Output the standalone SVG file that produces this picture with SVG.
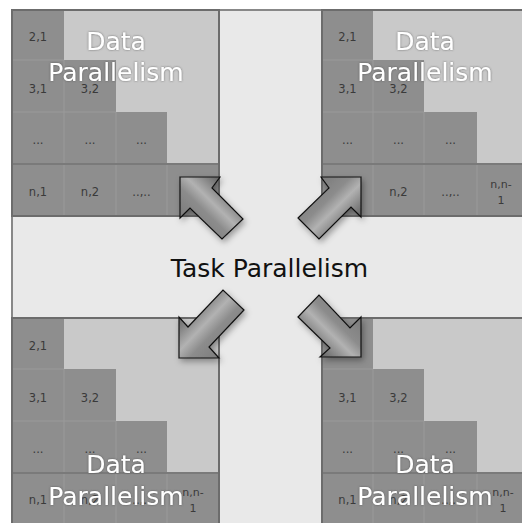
<svg xmlns="http://www.w3.org/2000/svg" width="522" height="523" viewBox="0 0 522 523">
<defs>
<style>
.light{fill:#c9c9c9}
.dark{fill:#8e8e8e}
.grid{stroke:#9a9a9a;stroke-width:1;fill:none}
.sep{stroke:#7a7a7a;stroke-width:2;fill:none}
.border{fill:none;stroke:#6c6c6c;stroke-width:2}
.lbl{font-family:"DejaVu Sans",Verdana,sans-serif;font-size:11.5px;fill:#3a3a3a;text-anchor:middle}
.lbs{font-family:"DejaVu Sans",Verdana,sans-serif;font-size:11px;fill:#3a3a3a;text-anchor:middle}
.big{font-family:"DejaVu Sans",Verdana,sans-serif;font-size:25px;fill:#ffffff;text-anchor:middle;filter:url(#glow)}
.task{font-family:"DejaVu Sans",Verdana,sans-serif;font-size:25px;fill:#111111;text-anchor:middle}
.arrow{stroke:#111;stroke-width:1.2;stroke-linejoin:miter;filter:url(#shadow)}
</style>
<linearGradient id="gA" x1="0" y1="1" x2="1" y2="0">
<stop offset="0" stop-color="#6e6e6e"/>
<stop offset="0.42" stop-color="#8c8c8c"/>
<stop offset="0.55" stop-color="#b2b2b2"/>
<stop offset="0.68" stop-color="#8a8a8a"/>
<stop offset="1" stop-color="#2a2a2a"/>
</linearGradient>
<linearGradient id="gB" href="#gA" x1="0" y1="0" x2="1" y2="1"/>
<linearGradient id="gC" href="#gA" x1="1" y1="1" x2="0" y2="0"/>
<linearGradient id="gD" href="#gA" x1="1" y1="0" x2="0" y2="1"/>
<filter id="shadow" x="-30%" y="-30%" width="170%" height="170%">
<feDropShadow dx="2" dy="3" stdDeviation="3" flood-color="#000" flood-opacity="0.35"/>
</filter>
<filter id="glow" x="-10%" y="-30%" width="120%" height="160%">
<feDropShadow dx="0" dy="0" stdDeviation="1.2" flood-color="#444" flood-opacity="0.7"/>
</filter>
</defs>
<rect x="0" y="0" width="522" height="523" fill="#ffffff"/>
<rect id="frame" x="12" y="10" width="530" height="530" fill="#e9e9e9" stroke="#888888" stroke-width="2"/>

<g id="block-top-left">
<rect class="light" x="12" y="10" width="207" height="206"/>
<path class="dark" d="M12,10 H64 V60 H116 V112 H167 V164 H219 V216 H12 Z"/>
<path class="grid" d="M12,60 H64 M12,112 H116 M64,60 V216 M116,112 V216 M167,164 V216"/>
<path class="sep" d="M12,164 H219"/>
<rect class="border" x="12" y="10" width="207" height="206"/>
<text class="lbl" x="38" y="41">2,1</text>
<text class="lbl" x="38" y="93">3,1</text>
<text class="lbl" x="90" y="93">3,2</text>
<text class="lbl" x="38" y="144">...</text>
<text class="lbl" x="90" y="144">...</text>
<text class="lbl" x="141.5" y="144">...</text>
<text class="lbl" x="38" y="196">n,1</text>
<text class="lbl" x="90" y="196">n,2</text>
<text class="lbl" x="141.5" y="196">..,..</text>
<text class="big" x="116" y="50">Data</text>
<text class="big" x="116" y="81">Parallelism</text>
</g>

<g id="block-top-right">
<rect class="light" x="322" y="10" width="210" height="206"/>
<path class="dark" d="M322,10 H373 V60 H424 V112 H477 V164 H532 V216 H322 Z"/>
<path class="grid" d="M322,60 H373 M322,112 H424 M373,60 V216 M424,112 V216 M477,164 V216"/>
<path class="sep" d="M322,164 H532"/>
<rect class="border" x="322" y="10" width="210" height="206"/>
<text class="lbl" x="347.5" y="41">2,1</text>
<text class="lbl" x="347.5" y="93">3,1</text>
<text class="lbl" x="398.5" y="93">3,2</text>
<text class="lbl" x="347.5" y="144">...</text>
<text class="lbl" x="398.5" y="144">...</text>
<text class="lbl" x="450.5" y="144">...</text>
<text class="lbl" x="398.5" y="196">n,2</text>
<text class="lbl" x="450.5" y="196">..,..</text>
<text class="lbs" x="501" y="188">n,n-</text>
<text class="lbs" x="501" y="204">1</text>
<text class="big" x="425" y="50">Data</text>
<text class="big" x="425" y="81">Parallelism</text>
</g>

<g id="block-bottom-left">
<rect class="light" x="12" y="318" width="207" height="215"/>
<path class="dark" d="M12,318 H64 V369 H116 V421 H167 V473 H219 V533 H12 Z"/>
<path class="grid" d="M12,369 H64 M12,421 H116 M64,369 V533 M116,421 V533 M167,473 V533"/>
<path class="sep" d="M12,473 H219"/>
<rect class="border" x="12" y="318" width="207" height="215"/>
<text class="lbl" x="38" y="350">2,1</text>
<text class="lbl" x="38" y="402">3,1</text>
<text class="lbl" x="90" y="402">3,2</text>
<text class="lbl" x="38" y="453">...</text>
<text class="lbl" x="90" y="453">...</text>
<text class="lbl" x="141.5" y="453">...</text>
<text class="lbl" x="38" y="504">n,1</text>
<text class="lbl" x="90" y="504">n,2</text>
<text class="lbl" x="141.5" y="504">..,..</text>
<text class="lbs" x="193" y="496">n,n-</text>
<text class="lbs" x="193" y="512">1</text>
<text class="big" x="116" y="473">Data</text>
<text class="big" x="116" y="505">Parallelism</text>
</g>

<g id="block-bottom-right">
<rect class="light" x="322" y="318" width="210" height="215"/>
<path class="dark" d="M322,318 H373 V369 H424 V421 H477 V473 H532 V533 H322 Z"/>
<path class="grid" d="M322,369 H373 M322,421 H424 M373,369 V533 M424,421 V533 M477,473 V533"/>
<path class="sep" d="M322,473 H532"/>
<rect class="border" x="322" y="318" width="210" height="215"/>
<text class="lbl" x="347.5" y="402">3,1</text>
<text class="lbl" x="398.5" y="402">3,2</text>
<text class="lbl" x="347.5" y="453">...</text>
<text class="lbl" x="398.5" y="453">...</text>
<text class="lbl" x="450.5" y="453">...</text>
<text class="lbl" x="347.5" y="504">n,1</text>
<text class="lbl" x="398.5" y="504">n,2</text>
<text class="lbl" x="450.5" y="504">..,..</text>
<text class="lbs" x="503" y="496">n,n-</text>
<text class="lbs" x="503" y="512">1</text>
<text class="big" x="425" y="473">Data</text>
<text class="big" x="425" y="505">Parallelism</text>
</g>

<g id="task-parallelism">
<text class="task" x="269.5" y="277">Task Parallelism</text>
</g>

<g id="connectors">
<polygon class="arrow" fill="url(#gA)" points="180,177 220,177 212,188 243,219 222,239 190,208 180,218"/>
<polygon class="arrow" fill="url(#gB)" points="361,177 321,177 329,188 298,218 319,239 351,207 361,217"/>
<polygon class="arrow" fill="url(#gC)" points="179,358 179,317 188,327 223,290 244,310 209,347 219,358"/>
<polygon class="arrow" fill="url(#gD)" points="361,357 361,317 350,328 319,295 298,317 330,348 320,357"/>
</g>
</svg>
